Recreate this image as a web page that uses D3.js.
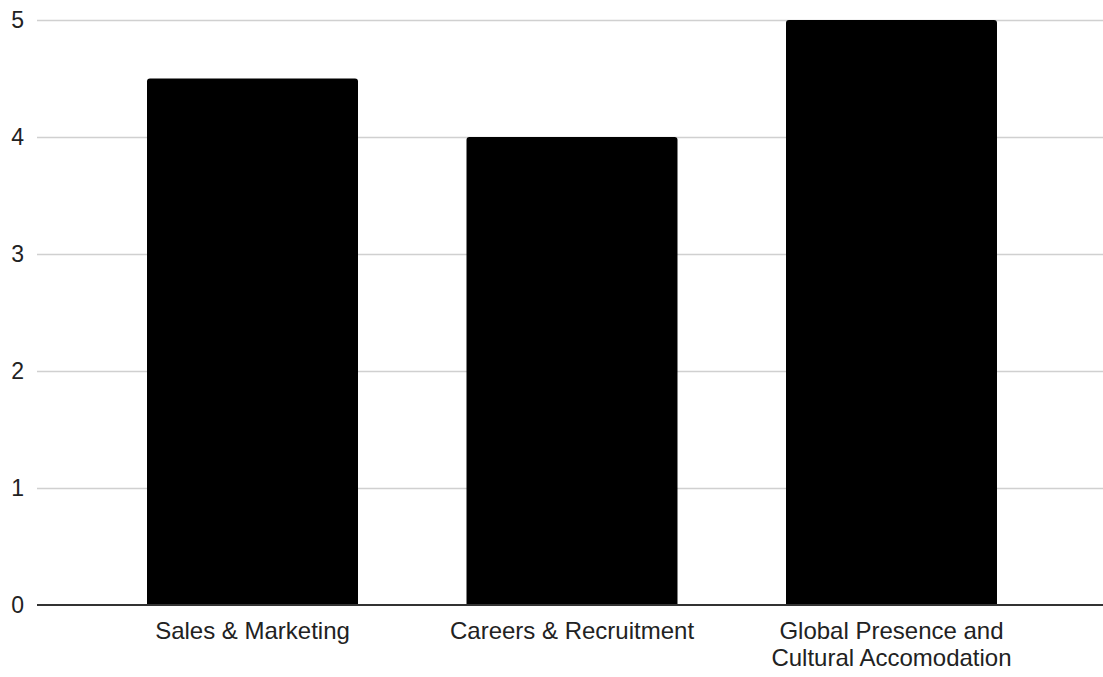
<!DOCTYPE html>
<html>
<head>
<meta charset="utf-8">
<script src="https://cdn.jsdelivr.net/npm/d3@7"></script>
<style>
  body { margin: 0; background: #fff; }
  text { font-family: Arial, "Liberation Sans", sans-serif; fill: #222; }
</style>
</head>
<body>
<div id="chart"></div>
<script>
// Category labels (multi-line where the chart wraps them)
const categories = ['Sales & Marketing', 'Careers & Recruitment', 'Global Presence and Cultural Accomodation'];
const labelLines = [['Sales & Marketing'], ['Careers & Recruitment'], ['Global Presence and', 'Cultural Accomodation']];
const values = [4.5, 4, 5];
const yTicks = [0, 1, 2, 3, 4, 5];

const W = 1103, H = 677;
const margin = { top: 20, right: 0, bottom: 72, left: 37 };
const width = W - margin.left - margin.right;
const height = H - margin.top - margin.bottom;

const svg = d3.select('#chart').append('svg')
  .attr('width', W)
  .attr('height', H)
  .append('g')
  .attr('transform', `translate(${margin.left},${margin.top})`);

const x = d3.scaleBand()
  .domain(categories)
  .range([0, width + 4])
  .paddingInner(0.3396)
  .paddingOuter(0.3443);

const y = d3.scaleLinear()
  .domain([0, 5])
  .range([height, 0]);

// Gridlines
svg.selectAll('.grid')
  .data(yTicks.filter(d => d !== 0))
  .enter().append('line')
  .attr('x1', 0)
  .attr('x2', width)
  .attr('y1', d => Math.round(y(d)) + 0.5)
  .attr('y2', d => Math.round(y(d)) + 0.5)
  .style('stroke', '#d0d0d0')
  .style('stroke-width', 1.5);

// Y tick labels
svg.selectAll('.ytick')
  .data(yTicks)
  .enter().append('text')
  .attr('x', -13)
  .attr('y', d => y(d))
  .attr('dy', '0.35em')
  .style('text-anchor', 'end')
  .style('font-size', '23px')
  .text(d => d);

// Bars with slightly rounded top corners
const r = 3;
svg.selectAll('.bar')
  .data(values)
  .enter().append('path')
  .attr('d', (d, i) => {
    const x0 = x(categories[i]), x1 = x0 + x.bandwidth();
    const yt = y(d), yb = y(0);
    return `M${x0},${yb}V${yt + r}Q${x0},${yt} ${x0 + r},${yt}H${x1 - r}Q${x1},${yt} ${x1},${yt + r}V${yb}Z`;
  })
  .style('fill', '#000');

// Baseline
svg.append('line')
  .attr('x1', 0)
  .attr('x2', width)
  .attr('y1', y(0))
  .attr('y2', y(0))
  .style('stroke', '#333')
  .style('stroke-width', 2);

// X labels
const xl = svg.selectAll('.xlabel')
  .data(categories)
  .enter().append('text')
  .attr('transform', d => `translate(${x(d) + x.bandwidth() / 2},${height + 26})`)
  .style('text-anchor', 'middle')
  .style('font-size', '24px');

xl.each(function(d, i) {
  d3.select(this).selectAll('tspan')
    .data(labelLines[i])
    .enter().append('tspan')
    .attr('x', 0)
    .attr('dy', (t, j) => j === 0 ? '0.35em' : '27px')
    .text(t => t);
});
</script>
</body>
</html>
